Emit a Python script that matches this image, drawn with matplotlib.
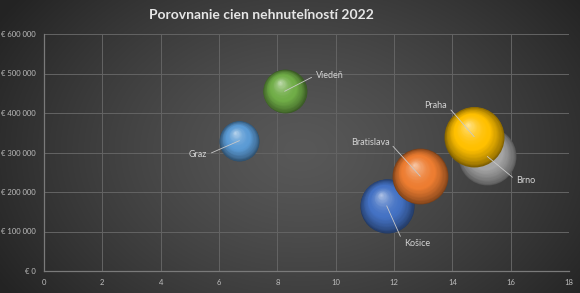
import numpy as np
import matplotlib
matplotlib.use("Agg")
import matplotlib.pyplot as plt
import matplotlib.colors as mcolors
from matplotlib.transforms import offset_copy

plt.rcParams['font.family'] = ['Lato', 'DejaVu Sans']

# data
mesta = ['Košice', 'Bratislava', 'Brno', 'Praha', 'Graz', 'Viedeň']
roky = [11.75, 12.9, 15.2, 14.75, 6.7, 8.25]
ceny = [165000, 240000, 290000, 340000, 330000, 455000]
velkost = [73, 78, 84, 90, 40, 48]
farby = ['#4472c4', '#ed7d31', '#a5a5a5', '#ffc000', '#5b9bd5', '#70ad47']

# label offsets in pixels from bubble centre, plus alignment
label_off = [(17, -38, 'left'), (-31, 34, 'right'), (29, -24, 'left'),
             (-27, 31, 'right'), (-32, -14, 'right'), (31, 16, 'left')]

W, H, DPI = 580, 293, 100
fig = plt.figure(figsize=(W / DPI, H / DPI), dpi=DPI)

# radial background gradient
bg = fig.add_axes([0, 0, 1, 1], zorder=-10)
yy, xx = np.mgrid[0:H, 0:W]
d = np.sqrt(((xx - 300) / 330.0) ** 2 + ((yy - 150) / 240.0) ** 2)
g = np.clip(0.345 - 0.19 * d ** 1.3, 0.14, 1)
bg.imshow(np.dstack([g, g, g]), aspect='auto', extent=[0, 1, 0, 1])
bg.axis('off')

ax = fig.add_axes([44 / W, 22 / H, 525 / W, 237 / H])
ax.set_facecolor('none')
ax.set_xlim(0, 18)
ax.set_ylim(0, 600000)
ax.set_xticks(np.arange(0, 19, 2))
ax.set_yticks(np.arange(0, 600001, 100000))
ax.set_yticklabels(['€ 0'] + [f"€ {v // 1000} 000" for v in range(100000, 600001, 100000)])
ax.grid(True, color='#646464', linewidth=0.7)
ax.set_axisbelow(True)
for s in ['top', 'right']:
    ax.spines[s].set_visible(False)
for s in ['left', 'bottom']:
    ax.spines[s].set_color('#7a7a7a')
    ax.spines[s].set_linewidth(0.9)
ax.tick_params(length=0, labelsize=5.5, colors='#bdbdbd', pad=6)


def mix(c, other, t):
    c = np.array(mcolors.to_rgb(c))
    o = np.array(mcolors.to_rgb(other))
    return tuple(c * (1 - t) + o * t)


# px per point
pt = DPI / 72.0
r_max = 30.0  # px for the biggest bubble
N = 60
for i, (m, x, y, v, c) in enumerate(zip(mesta, roky, ceny, velkost, farby)):
    r = r_max * np.sqrt(v / max(velkost)) / pt  # radius in points
    z = 2 + i
    dark = mix(c, 'black', 0.5)
    hx, hy = -0.22 * r, 0.42 * r
    for k in range(0, N):
        t = k / N
        rr = r * (1 - t)
        if t < 0.4:
            col = mix(dark, c, (t / 0.4) ** 0.7)
        else:
            col = mix(c, 'white', 0.6 * ((t - 0.4) / 0.6) ** 1.8)
        tr = offset_copy(ax.transData, fig=fig, x=hx * t, y=hy * t, units='points')
        ax.scatter([x], [y], s=(2 * rr) ** 2, color=col, lw=0, zorder=z,
                   transform=tr, antialiased=(k == 0))

    dx, dy, ha = label_off[i]
    ax.annotate(m, xy=(x, y), xytext=(dx, dy), textcoords='offset pixels',
                ha=ha, va='center', fontsize=6.5, color='#d4d4d4', zorder=20,
                arrowprops=dict(arrowstyle='-', color='#c8c8c8', lw=0.6,
                                shrinkA=1, shrinkB=0,
                                relpos=(0, 0.5) if ha == 'left' else (1, 0.5)))

fig.text(261 / W, 1 - 15 / H, 'Porovnanie cien nehnuteľností 2022', ha='center', va='center',
         fontsize=10, fontweight='bold', color='#e6e6e6')

fig.savefig('out.png', dpi=DPI)
